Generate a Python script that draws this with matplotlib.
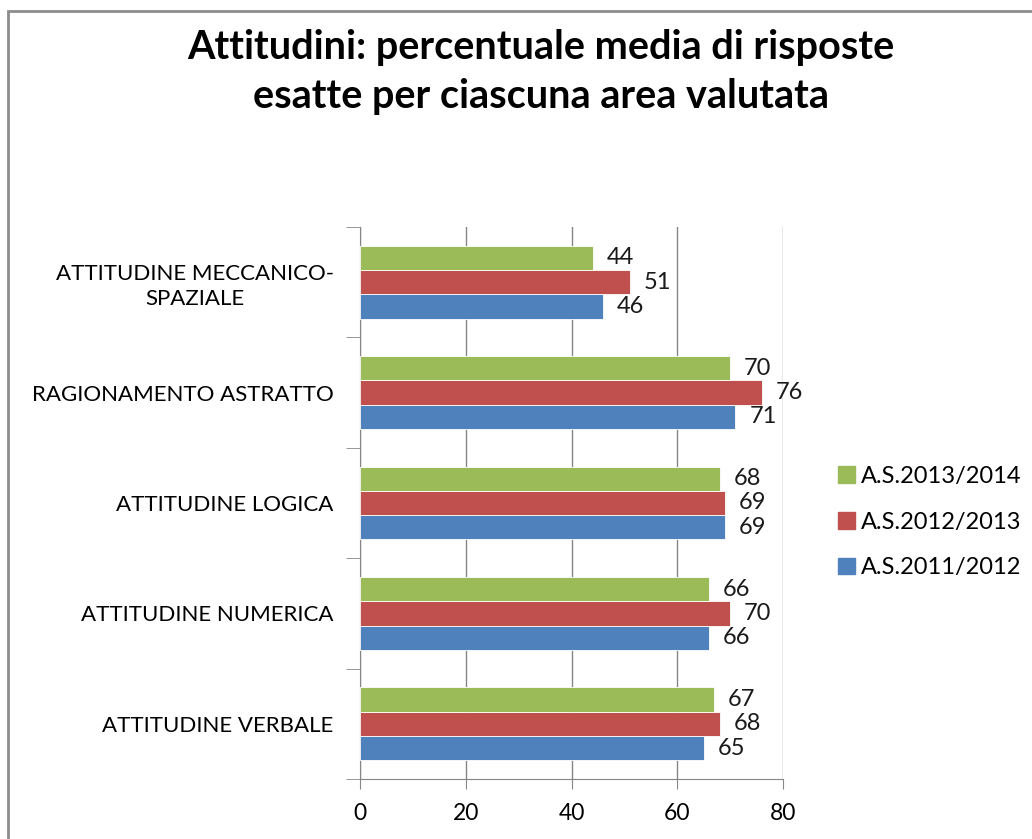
import numpy as np
import matplotlib.pyplot as plt
from matplotlib.patches import Rectangle, Patch

# Data (bottom to top, as drawn)
categories = ['ATTITUDINE VERBALE', 'ATTITUDINE NUMERICA', 'ATTITUDINE LOGICA',
              'RAGIONAMENTO ASTRATTO', 'ATTITUDINE MECCANICO-\nSPAZIALE']
as_2011 = [65, 66, 69, 71, 46]
as_2012 = [68, 70, 69, 76, 51]
as_2013 = [67, 66, 68, 70, 44]
series_names = ['A.S.2011/2012', 'A.S.2012/2013', 'A.S.2013/2014']
colors = ['#4F81BD', '#C0504D', '#9BBB59']

plt.rcParams['font.family'] = ['Lato', 'DejaVu Sans']

fig = plt.figure(figsize=(10.32, 8.39), dpi=100)
ax = fig.add_axes([360 / 1032, 1 - 779 / 839, 423 / 1032, 552 / 839])

y = np.arange(len(categories))
h = 0.22
for i, (vals, name, c) in enumerate(zip([as_2011, as_2012, as_2013], series_names, colors)):
    pos = y + (i - 1) * h
    ax.barh(pos, vals, height=h, color=c, edgecolor='white', linewidth=0.6, label=name, zorder=3)
    for p, v in zip(pos, vals):
        ax.annotate(str(v), (v, p), xytext=(10, 0), textcoords='offset points',
                    ha='left', va='center', fontsize=17, color='#1a1a1a')

ax.set_xlim(0, 80)
ax.set_ylim(-0.5, len(categories) - 0.5)
ax.set_xticks([0, 20, 40, 60, 80])
ax.tick_params(axis='x', direction='out', length=7, color='#868686', labelsize=16.5, pad=10)
ax.xaxis.grid(True, color='#868686', linewidth=1, zorder=0)

ax.set_yticks(y)
ax.set_yticklabels(categories, fontsize=16, multialignment='center', linespacing=1.3)
ax.set_yticks(np.arange(-0.5, len(categories)), minor=True)
ax.tick_params(axis='y', which='major', length=0, pad=19)
ax.tick_params(axis='y', which='minor', direction='out', length=10, color='#868686')

for s in ['top', 'right']:
    ax.spines[s].set_visible(False)
for s in ['left', 'bottom']:
    ax.spines[s].set_color('#868686')

handles = [Patch(color=c) for c in colors[::-1]]
fig.legend(handles, series_names[::-1], loc='center left', bbox_to_anchor=(838 / 1032, 1 - 522 / 839),
           frameon=False, fontsize=17, handlelength=0.7, handleheight=0.7, borderpad=0,
           borderaxespad=0, handletextpad=0.25, labelspacing=1.05)

fig.text(541 / 1032, 1 - 72 / 839, 'Attitudini: percentuale media di risposte\nesatte per ciascuna area valutata',
         ha='center', va='center', fontsize=28.5, fontweight='bold', linespacing=1.38)

# chart frame
fig.patches.append(Rectangle((8 / 1032, -0.1), 1.2, 1 - 11 / 839 + 0.1, transform=fig.transFigure,
                             fill=False, edgecolor='#8c8c8c', linewidth=2))

fig.savefig('out.png', dpi=100)
